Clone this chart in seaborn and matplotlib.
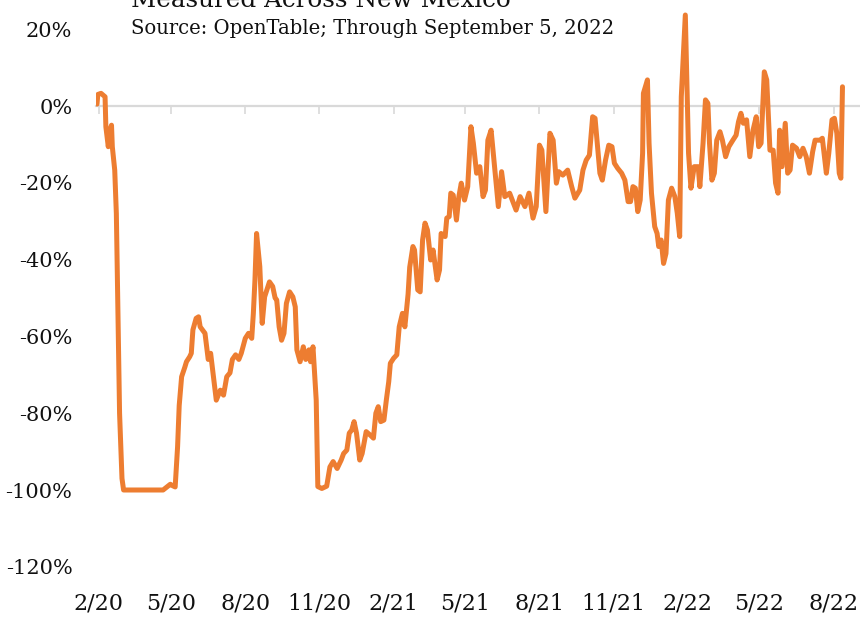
import matplotlib
matplotlib.use("Agg")
import matplotlib.pyplot as plt
import seaborn as sns
import pandas as pd

TITLE = "Measured Across New Mexico"
SUBTITLE = "Source: OpenTable; Through September 5, 2022"

START_DATE = "2020-02-18"
DAYS = [0, 1, 5, 10, 11, 14, 16, 18, 19, 22, 24, 28, 31, 33, 82, 88, 91, 94, 97,
        100, 102, 105, 109, 111, 115, 117, 119, 123, 126, 128, 134, 138, 141, 145, 148,
        153, 157, 161, 165, 168, 172, 176, 179, 184, 188, 192, 194, 196, 198,
        202, 205, 208, 214, 218, 221, 223, 226, 229, 232, 235, 239, 243, 246, 248,
        252, 256, 259, 263, 265, 268, 272, 274, 279, 285, 289, 293, 298, 303, 306,
        310, 313, 316, 319, 322, 326, 329, 334, 339, 343, 346, 349, 352, 356, 359,
        362, 364, 368, 372, 375, 379, 382, 386, 388, 392, 394, 398, 401, 404, 407,
        410, 414, 417, 422, 425, 427, 432, 434, 437, 439, 442, 446, 449, 452, 456,
        460, 464, 467, 471, 475, 479, 482, 485, 489, 494, 498, 502, 506, 512, 520,
        525, 531, 536, 541, 545, 549, 552, 557, 562, 566, 570, 573, 578, 584, 589,
        593, 599, 603, 607, 611, 615, 618, 620, 624, 627, 631, 635, 639, 642, 646,
        651, 655, 659, 662, 665, 668, 671, 674, 677, 678, 683, 685, 688, 692, 695,
        697, 700, 703, 706, 709, 713, 717, 720, 723, 725, 730, 734, 737, 741, 746,
        748, 752, 755, 758, 760, 763, 766, 769, 773, 776, 780, 784, 789, 793, 796,
        799, 802, 806, 810, 814, 818, 821, 824, 828, 831, 835, 839, 842, 845, 847,
        850, 854, 857, 860, 863, 868, 872, 876, 880, 884, 888, 891, 897, 900, 905,
        908, 912, 915, 918, 921, 923, 925]
VALUES = [0.5, 3.0, 3.3, 2.4, -5.4, -10.6, -6.3, -5.0, -10.6, -16.7, -28.0, -80.0, -97.0, -100.0, -100.0, -99.0, -98.5, -98.9, -99.2,
          -88.7, -78.0, -70.5, -68.0, -66.6, -65.3, -64.4, -58.3, -55.3, -54.9, -57.5, -59.2, -66.0, -64.4, -71.4, -76.6,
          -74.0, -75.3, -70.5, -69.5, -66.0, -64.8, -66.0, -64.4, -60.5, -59.2, -60.5, -54.0, -45.3, -33.2,
          -41.8, -56.6, -49.7, -45.8, -47.0, -50.0, -50.5, -57.5, -61.0, -59.2, -51.4, -48.4, -49.7, -52.3, -63.5,
          -66.6, -62.7, -66.0, -63.5, -66.6, -62.7, -76.6, -99.1, -99.6, -99.0, -94.0, -92.6, -94.4, -92.2, -90.5,
          -89.6, -85.2, -84.4, -82.2, -85.2, -92.2, -90.5, -84.8, -85.7, -86.5, -80.0, -78.3, -82.2, -81.8, -76.6,
          -71.8, -67.0, -65.7, -64.8, -57.5, -54.0, -57.5, -49.0, -42.0, -36.6, -37.5, -47.9, -48.4, -34.9, -30.5,
          -32.3, -40.1, -37.5, -45.3, -42.7, -33.2, -34.0, -29.2, -28.8, -22.7, -23.2, -29.7, -23.6, -20.1, -24.5,
          -21.0, -5.4, -9.7, -17.5, -15.8, -23.6, -21.9, -8.9, -6.3, -17.5, -26.2, -17.1, -23.6, -22.7, -27.1,
          -23.6, -26.2, -22.7, -29.2, -26.2, -10.2, -11.5, -27.5, -7.1, -8.9, -20.1, -17.1, -18.0, -16.7, -21.0,
          -24.0, -21.9, -16.7, -14.1, -12.8, -2.8, -3.2, -8.0, -17.5, -19.3, -14.1, -10.2, -10.6, -14.9, -16.2,
          -17.5, -19.3, -24.9, -24.9, -21.0, -21.4, -27.5, -24.5, -12.3, 3.3, 6.8, -9.7, -22.7, -31.4, -33.2,
          -36.6, -34.9, -41.0, -38.4, -24.5, -21.4, -23.6, -27.9, -34.0, 2.4, 23.7, -12.3, -21.4, -15.8, -15.8,
          -21.0, -9.7, 1.6, 0.7, -9.7, -19.3, -17.5, -8.9, -6.7, -8.9, -13.2, -10.6, -8.9, -7.6, -4.1,
          -1.9, -4.5, -3.6, -13.2, -6.3, -2.8, -10.6, -9.7, 8.9, 6.8, -11.5, -11.5, -20.1, -22.7, -6.3,
          -15.8, -4.5, -17.5, -16.7, -10.2, -11.0, -13.2, -11.0, -13.2, -17.5, -11.9, -8.9, -8.9, -8.4, -17.5,
          -12.3, -3.6, -3.2, -7.1, -17.5, -18.8, 5.0]

TICK_DATES = ["2020-02-20", "2020-05-20", "2020-08-20", "2020-11-20", "2021-02-20", "2021-05-20",
              "2021-08-20", "2021-11-20", "2022-02-20", "2022-05-20", "2022-08-20"]
TICK_LABELS = ["2/20", "5/20", "8/20", "11/20", "2/21", "5/21", "8/21", "11/21", "2/22", "5/22", "8/22"]
Y_TICKS = [20, 0, -20, -40, -60, -80, -100, -120]

ORANGE = "#ED7D31"
GRID = "#d9d9d9"
TEXT = "#111111"

sns.set_theme(style="white")
plt.rcParams["font.family"] = ["DejaVu Serif", "DejaVu Sans"]

df = pd.DataFrame({
    "date": pd.Timestamp(START_DATE) + pd.to_timedelta(DAYS, unit="D"),
    "value": VALUES,
})

W, H = 860, 618
fig = plt.figure(figsize=(W / 100, H / 100), dpi=100)
px_per_day = 735 / 912.0
x_left_px, x_right_px = 96, 860
top_px, bottom_px = 10, 586
ax = fig.add_axes([x_left_px / W, 1 - bottom_px / H,
                   (x_right_px - x_left_px) / W, (bottom_px - top_px) / H])

sns.lineplot(data=df, x="date", y="value", ax=ax, color=ORANGE, linewidth=3.6,
             solid_joinstyle="round", solid_capstyle="round")

start = pd.Timestamp(START_DATE)
ax.set_xlim(start + pd.Timedelta(days=(x_left_px - 97) / px_per_day),
            start + pd.Timedelta(days=(x_right_px - 97) / px_per_day))
ax.set_ylim(-125, 25)

for s in ["top", "right", "left"]:
    ax.spines[s].set_visible(False)
ax.spines["bottom"].set_position(("data", 0))
ax.spines["bottom"].set_color(GRID)
ax.spines["bottom"].set_linewidth(1.6)
ax.spines["bottom"].set_zorder(0)

tick_pos = [pd.Timestamp(d) for d in TICK_DATES]
ax.set_xticks(tick_pos)
ax.tick_params(axis="x", which="both", direction="out", length=5.5, width=1.2,
               color=GRID, labelbottom=False, bottom=True)
ax.set_xlabel("")
ax.set_ylabel("")

ax.set_yticks(Y_TICKS)
ax.set_yticklabels([f"{v}%" for v in Y_TICKS])
ax.tick_params(axis="y", length=0, pad=17, labelsize=15, labelcolor=TEXT)

sec = ax.secondary_xaxis("bottom")
sec.set_xticks(tick_pos)
sec.set_xticklabels(TICK_LABELS)
sec.tick_params(length=0, pad=5, labelsize=16, labelcolor=TEXT)
sec.spines["bottom"].set_visible(False)

fig.text(131 / W, 1 - 7 / H, TITLE, fontsize=17.7, va="baseline", ha="left", color=TEXT)
fig.text(131 / W, 1 - 34 / H, SUBTITLE, fontsize=14.1, va="baseline", ha="left", color=TEXT)

fig.savefig("out.png", dpi=100)
